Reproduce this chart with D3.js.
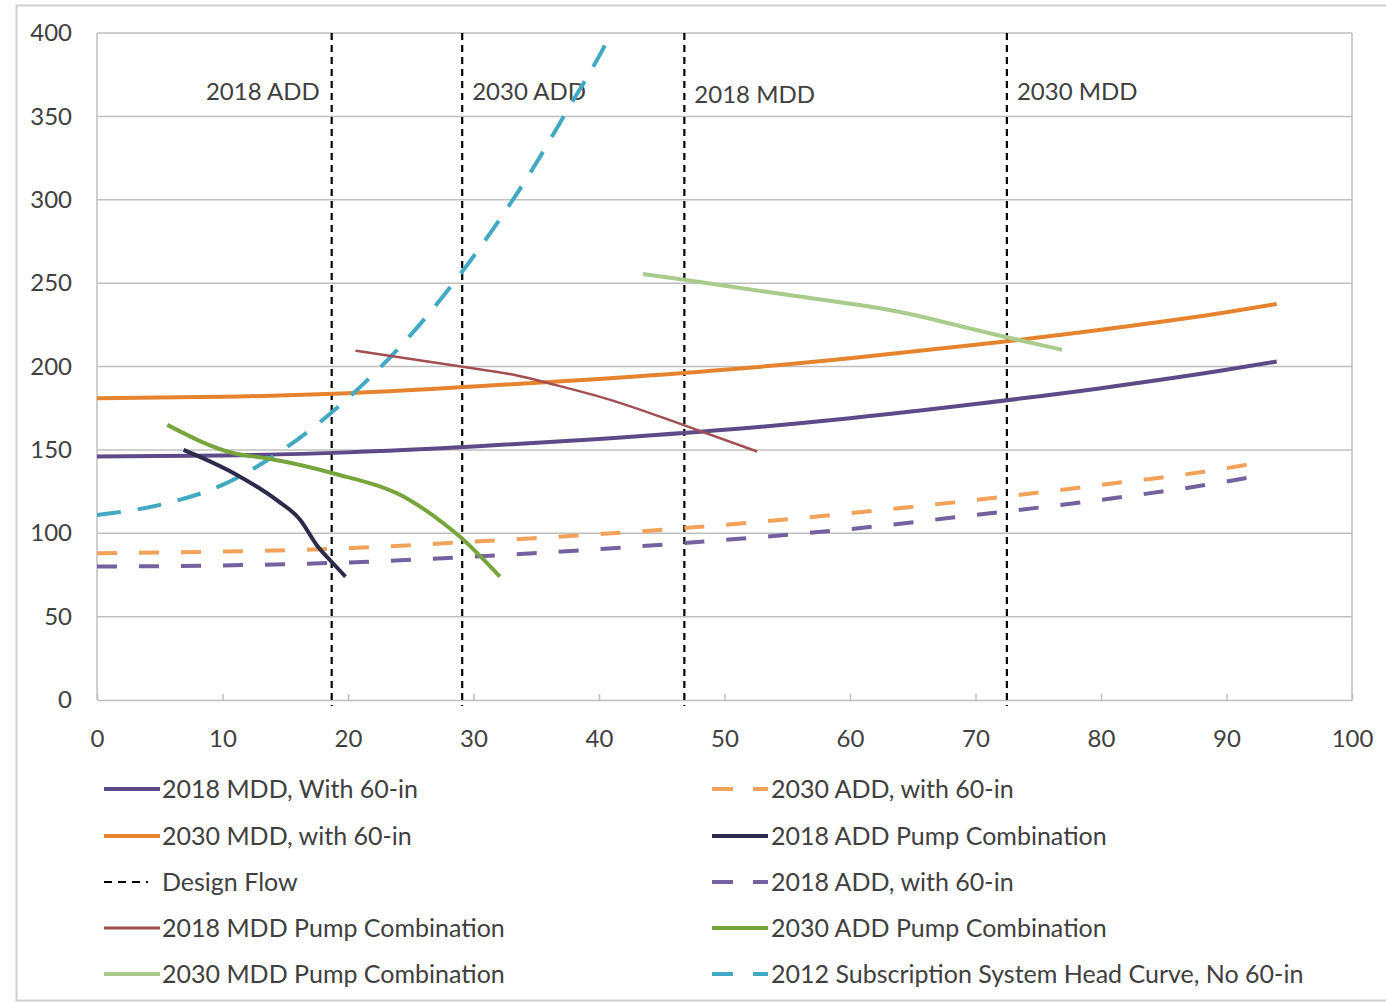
<!DOCTYPE html>
<html>
<head>
<meta charset="utf-8">
<script src="https://cdn.jsdelivr.net/npm/d3@7"></script>
<style>
  html, body { margin: 0; padding: 0; background: #fff; }
  svg { display: block; }
  text { font-family: Lato, "Open Sans", sans-serif; fill: #404040; }
</style>
</head>
<body>
<svg id="chart" width="1386" height="1003"></svg>
<script>
// Flow (x) ticks and head (y) ticks
const xTicks = [0, 10, 20, 30, 40, 50, 60, 70, 80, 90, 100];
const yTicks = [0, 50, 100, 150, 200, 250, 300, 350, 400];

// System curves, with 60-in main
const mdd2018With60 = [[0,146],[10,146.6],[20,148.5],[30,152],[40,156.5],[50,162],[60,169],[70,177.5],[80,187],[90,198],[94,203]];
const mdd2030With60 = [[0,181],[10,181.8],[20,184],[30,188],[40,192.5],[50,198],[60,205],[70,213],[80,222],[90,232.5],[94,237.5]];
const add2030With60 = [[0,88],[10,89],[20,91],[30,95],[40,99.5],[50,105],[60,112],[70,120],[80,129],[90,139],[93,143]];
const add2018With60 = [[0,80],[10,80.7],[20,82.5],[30,86],[40,90.5],[50,96],[60,102.5],[70,111],[80,120],[90,131],[93,135]];
const subscription2012 = [[0,111],[5,117],[10,129],[15,151],[20,181],[25,219],[30,266],[35,322],[37.5,354],[40,386],[41,400],[42,414]];

// Pump combination curves
const mddPump2018 = [[20.6,209.5],[29,200],[33.2,195],[36.5,189],[40.9,180],[46.7,165],[52.6,149]];
const addPump2018 = [[6.9,150],[10.9,136],[14.3,120],[16.2,108],[17.5,93],[18.8,82],[19.8,74]];
const addPump2030 = [[5.6,165],[10.9,148],[13.5,145],[18.8,136],[24.9,120],[27.6,106],[28.9,98],[32.1,74]];
const mddPump2030 = [[43.5,255.5],[46.8,252],[55,243],[64,232.7],[70,222],[72.5,217.5],[76.9,210]];

// Design flows
const designFlows = [18.7, 29.1, 46.8, 72.5];
const designLabels = ["2018 ADD", "2030 ADD", "2018 MDD", "2030 MDD"];

const series = [
  { name: "2018 MDD, With 60-in", data: mdd2018With60, color: "#5d4a88", width: 4, dash: null },
  { name: "2030 MDD, with 60-in", data: mdd2030With60, color: "#e5832f", width: 4, dash: null },
  { name: "2030 ADD, with 60-in", data: add2030With60, color: "#f3a25a", width: 4, dash: "20,22" },
  { name: "2018 ADD, with 60-in", data: add2018With60, color: "#7461a0", width: 4, dash: "20,22" },
  { name: "2012 Subscription System Head Curve, No 60-in", data: subscription2012, color: "#41a9c3", width: 4, dash: "24,17" },
  { name: "2018 MDD Pump Combination", data: mddPump2018, color: "#a24e52", width: 2.5, dash: null },
  { name: "2018 ADD Pump Combination", data: addPump2018, color: "#2c2b4c", width: 4, dash: null },
  { name: "2030 ADD Pump Combination", data: addPump2030, color: "#77a53c", width: 4, dash: null },
  { name: "2030 MDD Pump Combination", data: mddPump2030, color: "#a9cc8d", width: 4, dash: null }
];

const legendLeft = [
  { label: "2018 MDD, With 60-in", color: "#5d4a88", kind: "solid", w: 4 },
  { label: "2030 MDD, with 60-in", color: "#e5832f", kind: "solid", w: 4 },
  { label: "Design Flow", color: "#000", kind: "design", w: 2 },
  { label: "2018 MDD Pump Combination", color: "#a24e52", kind: "solid", w: 3 },
  { label: "2030 MDD Pump Combination", color: "#a9cc8d", kind: "solid", w: 4 }
];
const legendRight = [
  { label: "2030 ADD, with 60-in", color: "#f3a25a", kind: "dash", w: 4 },
  { label: "2018 ADD Pump Combination", color: "#2c2b4c", kind: "solid", w: 4 },
  { label: "2018 ADD, with 60-in", color: "#7461a0", kind: "dash", w: 4 },
  { label: "2030 ADD Pump Combination", color: "#77a53c", kind: "solid", w: 4 },
  { label: "2012 Subscription System Head Curve, No 60-in", color: "#41a9c3", kind: "dash", w: 4 }
];

const svg = d3.select("#chart");
const plot = { left: 97, right: 1352, top: 33, bottom: 700 };

const x = d3.scaleLinear().domain([0, 100]).range([plot.left, plot.right]);
const y = d3.scaleLinear().domain([0, 400]).range([plot.bottom, plot.top]);

// Outer chart frame
svg.append("rect")
  .attr("x", 16.5).attr("y", 5.5).attr("width", 1400).attr("height", 995)
  .attr("fill", "none").attr("stroke", "#d0d0d0").attr("stroke-width", 2);

// Horizontal gridlines
svg.append("g")
  .selectAll("line")
  .data(yTicks.filter(d => d > 0))
  .join("line")
  .attr("x1", plot.left).attr("x2", plot.right)
  .attr("y1", d => y(d)).attr("y2", d => y(d))
  .attr("stroke", "#bfbfbf").attr("stroke-width", 1.5);

// Plot border (left, right)
svg.append("line").attr("x1", x(0)).attr("x2", x(0)).attr("y1", y(400)).attr("y2", y(0))
  .attr("stroke", "#bfbfbf").attr("stroke-width", 1.5);
svg.append("line").attr("x1", x(100)).attr("x2", x(100)).attr("y1", y(400)).attr("y2", y(0))
  .attr("stroke", "#bfbfbf").attr("stroke-width", 1.5);

// X axis
const xAxis = d3.axisBottom(x).tickValues(xTicks).tickSizeInner(-6).tickSizeOuter(0).tickPadding(30);
const gx = svg.append("g").attr("transform", `translate(0,${y(0)})`).call(xAxis);
gx.select(".domain").attr("stroke", "#bfbfbf").attr("stroke-width", 1.5);
gx.selectAll(".tick line").attr("stroke", "#bfbfbf").attr("stroke-width", 1.5);
gx.selectAll(".tick text").attr("font-size", 24).attr("fill", "#404040")
  .style("font-family", "Lato, sans-serif");

// Y axis
const yAxis = d3.axisLeft(y).tickValues(yTicks).tickSize(0).tickPadding(25);
const gy = svg.append("g").attr("transform", `translate(${x(0)},0)`).call(yAxis);
gy.select(".domain").remove();
gy.selectAll(".tick text").attr("font-size", 24).attr("fill", "#404040")
  .style("font-family", "Lato, sans-serif");

// Clip to plot area
svg.append("clipPath").attr("id", "plotClip")
  .append("rect").attr("x", plot.left).attr("y", plot.top)
  .attr("width", plot.right - plot.left).attr("height", plot.bottom - plot.top);

// Design flow verticals
const gDesign = svg.append("g");
gDesign.selectAll("line").data(designFlows).join("line")
  .attr("x1", d => x(d)).attr("x2", d => x(d))
  .attr("y1", y(400)).attr("y2", y(0) + 6)
  .attr("stroke", "#000").attr("stroke-width", 2.2).attr("stroke-dasharray", "7,5");

// Design flow labels
const labelPos = [
  { anchor: "end", dx: -12, y: 92 },
  { anchor: "start", dx: 10, y: 92 },
  { anchor: "start", dx: 10, y: 95 },
  { anchor: "start", dx: 10, y: 92 }
];
gDesign.selectAll("text").data(designFlows).join("text")
  .attr("x", (d, i) => x(d) + labelPos[i].dx)
  .attr("y", (d, i) => labelPos[i].y)
  .attr("dy", "0.35em")
  .attr("text-anchor", (d, i) => labelPos[i].anchor)
  .attr("font-size", 24)
  .text((d, i) => designLabels[i]);

// Series lines
const line = d3.line().x(d => x(d[0])).y(d => y(d[1])).curve(d3.curveMonotoneX);
const gLines = svg.append("g").attr("clip-path", "url(#plotClip)");
gLines.selectAll("path").data(series).join("path")
  .attr("d", d => line(d.data))
  .attr("fill", "none")
  .attr("stroke", d => d.color)
  .attr("stroke-width", d => d.width)
  .attr("stroke-dasharray", d => d.dash)
  .attr("stroke-linecap", "butt");

// Legend
function drawLegend(items, x0, textX) {
  const rowY = [789, 836, 882, 928, 974];
  const g = svg.append("g");
  items.forEach((it, i) => {
    const yy = rowY[i];
    if (it.kind === "solid") {
      g.append("line").attr("x1", x0).attr("x2", x0 + 56).attr("y1", yy).attr("y2", yy)
        .attr("stroke", it.color).attr("stroke-width", it.w);
    } else if (it.kind === "dash") {
      g.append("line").attr("x1", x0).attr("x2", x0 + 21).attr("y1", yy).attr("y2", yy)
        .attr("stroke", it.color).attr("stroke-width", it.w);
      g.append("line").attr("x1", x0 + 41).attr("x2", x0 + 56).attr("y1", yy).attr("y2", yy)
        .attr("stroke", it.color).attr("stroke-width", it.w);
    } else {
      g.append("line").attr("x1", x0).attr("x2", x0 + 44).attr("y1", yy).attr("y2", yy)
        .attr("stroke", it.color).attr("stroke-width", it.w).attr("stroke-dasharray", "8,6");
    }
    g.append("text").attr("x", textX).attr("y", yy).attr("dy", "0.35em")
      .attr("font-size", 25).text(it.label);
  });
}
drawLegend(legendLeft, 104, 162);
drawLegend(legendRight, 712, 771);
</script>
</body>
</html>
